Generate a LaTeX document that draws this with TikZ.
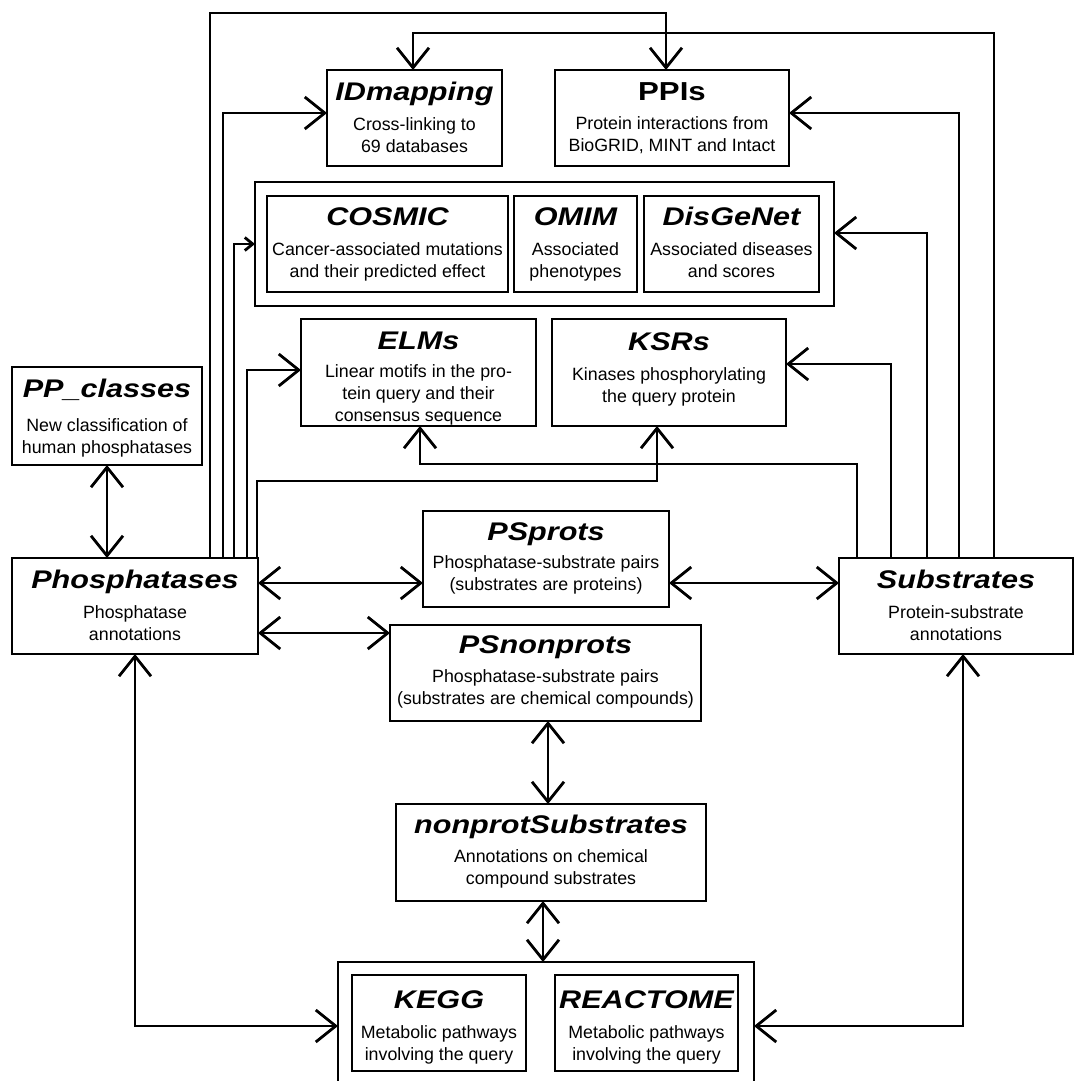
\documentclass[tikz,border=0pt]{standalone}
\usepackage{fontspec}
\setmainfont{Liberation Sans}
\newfontfamily\ttlfont[FakeStretch=1.2]{Liberation Sans}
\usetikzlibrary{arrows.meta,calc}
\newcommand\bst{\rule{0pt}{13.5pt}}
\begin{document}
\begin{tikzpicture}[x=1pt,y=-1pt,
  box/.style={draw, line width=2.9pt, inner sep=0pt, outer sep=0pt},
  ttl/.style={font=\ttlfont\fontsize{25.5}{30}\selectfont\bfseries\itshape, inner sep=0pt, anchor=base},
  ttlu/.style={font=\ttlfont\fontsize{26}{30}\selectfont\bfseries, inner sep=0pt, anchor=base},
  body/.style={font=\fontsize{17.8}{22}\selectfont, align=center, inner sep=0pt, anchor=north},
  arr/.style={line width=2.8pt, -{Straight Barb[length=20pt,width=32pt]}},
  darr/.style={line width=2.8pt, {Straight Barb[length=20pt,width=32pt]}-{Straight Barb[length=20pt,width=32pt]}},
  sarr/.style={line width=2.8pt, -{Straight Barb[length=8pt,width=13pt]}}]
\useasboundingbox (0,0) rectangle (1075,1081);
\clip (0,0) rectangle (1075,1081);
\fill[white] (0,0) rectangle (1075,1081);

% boxes
\node[box, minimum width=175, minimum height=96] (idm) at (414.5,118) {};
\node[box, minimum width=234, minimum height=96] (ppi) at (672,118) {};
\node[box, minimum width=579, minimum height=124] (grp) at (544.5,244) {};
\node[box, minimum width=241, minimum height=96] (cos) at (387.5,244) {};
\node[box, minimum width=123, minimum height=96] (omi) at (575.5,244) {};
\node[box, minimum width=175, minimum height=96] (dis) at (731.5,244) {};
\node[box, minimum width=235, minimum height=107] (elm) at (418.5,372.5) {};
\node[box, minimum width=234, minimum height=107] (ksr) at (669,372.5) {};
\node[box, minimum width=190, minimum height=98] (ppc) at (107,416) {};
\node[box, minimum width=246, minimum height=96] (phos) at (135,606) {};
\node[box, minimum width=234, minimum height=96] (sub) at (956,606) {};
\node[box, minimum width=246, minimum height=96] (psp) at (546,559) {};
\node[box, minimum width=311, minimum height=96] (psn) at (545.5,673) {};
\node[box, minimum width=310, minimum height=97] (nps) at (551,852.5) {};
\node[box, minimum width=416, minimum height=128] (cont) at (546,1026) {};
\node[box, minimum width=174, minimum height=96] (kegg) at (439,1023) {};
\node[box, minimum width=183, minimum height=96] (rea) at (646.5,1023) {};

% texts
\node[ttl] (idm-t) at (414.5,100) {IDmapping};
\node[body] (idm-b) at (414.5,116.5) {\bst Cross-linking to\\69 databases};
\node[ttlu] (ppi-t) at (672,100) {PPIs};
\node[body] (ppi-b) at (672,115.5) {\bst Protein interactions from\\BioGRID, MINT and Intact};
\node[ttl] (cos-t) at (387.5,225) {COSMIC};
\node[body] (cos-b) at (387.5,241.5) {\bst Cancer-associated mutations\\and their predicted effect};
\node[ttl] (omi-t) at (575.5,225) {OMIM};
\node[body] (omi-b) at (575.5,241.5) {\bst Associated\\phenotypes};
\node[ttl] (dis-t) at (731.5,225) {DisGeNet};
\node[body] (dis-b) at (731.5,241.5) {\bst Associated diseases\\and scores};
\node[ttl] (elm-t) at (418.5,349) {ELMs};
\node[body] (elm-b) at (418.5,363.5) {\bst Linear motifs in the pro-\\tein query and their\\consensus sequence};
\node[ttl] (ksr-t) at (669,350) {KSRs};
\node[body] (ksr-b) at (669,366.5) {\bst Kinases phosphorylating\\the query protein};
\node[ttl] (ppc-t) at (107,397) {PP\_classes};
\node[body] (ppc-b) at (107,417.5) {\bst New classification of\\human phosphatases};
\node[ttl] (phos-t) at (135,588) {Phosphatases};
\node[body] (phos-b) at (135,604.5) {\bst Phosphatase\\annotations};
\node[ttl] (sub-t) at (956,588) {Substrates};
\node[body] (sub-b) at (956,604.5) {\bst Protein-substrate\\annotations};
\node[ttl] (psp-t) at (546,540) {PSprots};
\node[body] (psp-b) at (546,554.5) {\bst Phosphatase-substrate pairs\\(substrates are proteins)};
\node[ttl] (psn-t) at (545.5,653) {PSnonprots};
\node[body] (psn-b) at (545.5,668.5) {\bst Phosphatase-substrate pairs\\(substrates are chemical compounds)};
\node[ttl] (nps-t) at (551,833) {nonprotSubstrates};
\node[body] (nps-b) at (551,848.5) {\bst Annotations on chemical\\compound substrates};
\node[ttl] (kegg-t) at (439,1008) {KEGG};
\node[body] (kegg-b) at (439,1024.5) {\bst Metabolic pathways\\involving the query};
\node[ttl] (rea-t) at (646.5,1008) {REACTOME};
\node[body] (rea-b) at (646.5,1024.5) {\bst Metabolic pathways\\involving the query};

% connectors from Phosphatases
\draw[arr] ([xshift=198pt]phos.north west) |- ([xshift=-6pt,yshift=57pt]ppi.north) -- ([xshift=-6pt]ppi.north);
\draw[arr] ([xshift=211pt]phos.north west) |- ([yshift=5pt]idm.west);
\draw[sarr] ([xshift=222pt]phos.north west) |- (grp.west);
\draw[arr] ([xshift=235pt]phos.north west) |- ([yshift=2.5pt]elm.west);
\draw[arr] ([xshift=245pt]phos.north west) |- ([xshift=-12pt,yshift=-55pt]ksr.south) -- ([xshift=-12pt]ksr.south);

% connectors from Substrates
\draw[arr] ([xshift=18pt]sub.north west) |- ([xshift=1.5pt,yshift=-38pt]elm.south) -- ([xshift=1.5pt]elm.south);
\draw[arr] ([xshift=52pt]sub.north west) |- ([yshift=8.5pt]ksr.east);
\draw[arr] ([xshift=88pt]sub.north west) |- ([yshift=11pt]grp.east);
\draw[arr] ([xshift=120pt]sub.north west) |- ([yshift=5pt]ppi.east);
\draw[arr] ([xshift=155pt]sub.north west) |- ([xshift=-1.5pt,yshift=37pt]idm.north) -- ([xshift=-1.5pt]idm.north);

% double arrows
\draw[darr] ([yshift=23pt]phos.east) -- ([yshift=-24pt]psp.west);
\draw[darr] ([yshift=-27pt]phos.east) -- ([yshift=40pt]psn.west);
\draw[darr] ([yshift=-24pt]psp.east) -- ([yshift=23pt]sub.west);
\draw[darr] (ppc.south) -- (ppc.south |- phos.north);
\draw[darr] ([xshift=2.5pt]psn.south) -- ([xshift=-3pt]nps.north);
\draw[darr] ([xshift=-8pt]nps.south) -- ([xshift=-3pt]cont.north);
\draw[darr] (phos.south) |- (cont.west);
\draw[darr] ([xshift=7pt]sub.south) |- (cont.east);
\end{tikzpicture}
\end{document}
